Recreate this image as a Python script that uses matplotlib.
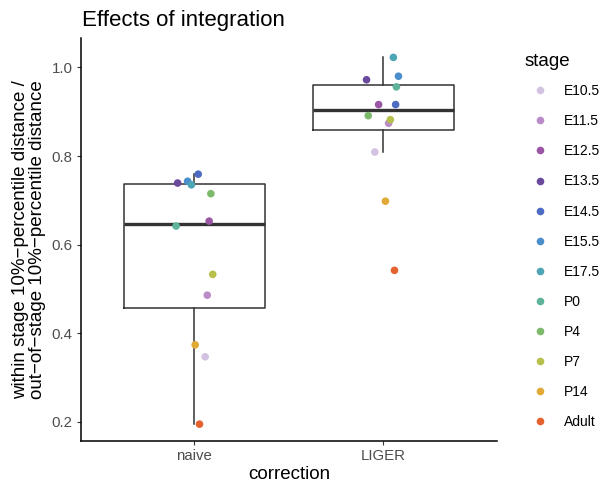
import matplotlib
matplotlib.use('Agg')
import matplotlib.pyplot as plt
from matplotlib.lines import Line2D

plt.rcParams['font.family'] = ['Liberation Sans', 'DejaVu Sans']

# data
stages = ['E10.5', 'E11.5', 'E12.5', 'E13.5', 'E14.5', 'E15.5',
          'E17.5', 'P0', 'P4', 'P7', 'P14', 'Adult']
stage_colors = ['#d3c3e3', '#b98bc7', '#9a56a5', '#6b4a9d', '#4c6bc1', '#4a8fcc',
                '#4ea5b5', '#5fb39b', '#7dba6b', '#b6c04a', '#e1aa36', '#e4622f']
corrections = ['naive', 'LIGER']

naive_vals = [0.347, 0.486, 0.653, 0.739, 0.759, 0.743,
              0.735, 0.642, 0.715, 0.533, 0.374, 0.195]
liger_vals = [0.809, 0.874, 0.916, 0.972, 0.916, 0.980,
              1.0225, 0.956, 0.891, 0.882, 0.698, 0.542]

# horizontal jitter of each point (category units)
naive_jitter = [0.057, 0.068, 0.078, -0.089, 0.020, -0.036,
                -0.016, -0.097, 0.087, 0.097, 0.004, 0.027]
liger_jitter = [-0.045, 0.028, -0.025, -0.089, 0.065, 0.080,
                0.053, 0.069, -0.080, 0.037, 0.011, 0.059]

fig = plt.figure(figsize=(6.05, 4.86), dpi=100)
ax = fig.add_axes([0.134, 0.0926, 0.687, 0.829])

line_c = '#333333'
ax.boxplot([naive_vals, liger_vals], positions=[1, 2], widths=0.75,
           whis=1.5, showfliers=False, showcaps=False,
           boxprops=dict(color=line_c, linewidth=1.1),
           whiskerprops=dict(color=line_c, linewidth=1.1),
           medianprops=dict(color=line_c, linewidth=2.4),
           zorder=1)

for vals, jit, pos in [(naive_vals, naive_jitter, 1), (liger_vals, liger_jitter, 2)]:
    for v, j, c in zip(vals, jit, stage_colors):
        ax.scatter(pos + j, v, s=30, color=c, edgecolors='none', zorder=3)

ax.set_xlim(0.4, 2.6)
ax.set_ylim(0.157, 1.066)
ax.set_yticks([0.2, 0.4, 0.6, 0.8, 1.0])
ax.set_yticklabels(['0.2', '0.4', '0.6', '0.8', '1.0'])
ax.set_xticks([1, 2])
ax.set_xticklabels(corrections)

for s in ['top', 'right']:
    ax.spines[s].set_visible(False)
for s in ['left', 'bottom']:
    ax.spines[s].set_linewidth(1.1)
    ax.spines[s].set_color('black')
ax.tick_params(colors='#333333', labelcolor='#4d4d4d', labelsize=10.8, length=3, width=0.8, pad=3)

ax.set_xlabel('correction', fontsize=13.5, labelpad=2)
ax.set_ylabel('within stage 10%\u2212percentile distance /\nout\u2212of\u2212stage 10%\u2212percentile distance',
              fontsize=13.5, labelpad=4, linespacing=1.0)
ax.set_title('Effects of integration', fontsize=16, loc='left', pad=9, x=0.003)

# legend title as separate text so the gap to the first key matches
fig.text(0.867, 1 - 62 / 486, 'stage', fontsize=13.5, ha='left', va='center')
handles = [Line2D([0], [0], marker='o', linestyle='', markersize=5.5,
                  markerfacecolor=c, markeredgecolor='none') for c in stage_colors]
leg = fig.legend(handles, stages, loc='upper left',
                 bbox_to_anchor=(0.858, 1 - 78.5 / 486), frameon=False, fontsize=10,
                 labelspacing=1.16, handletextpad=0.63,
                 handlelength=2.2, borderaxespad=0)

fig.savefig('out.png', dpi=100)
